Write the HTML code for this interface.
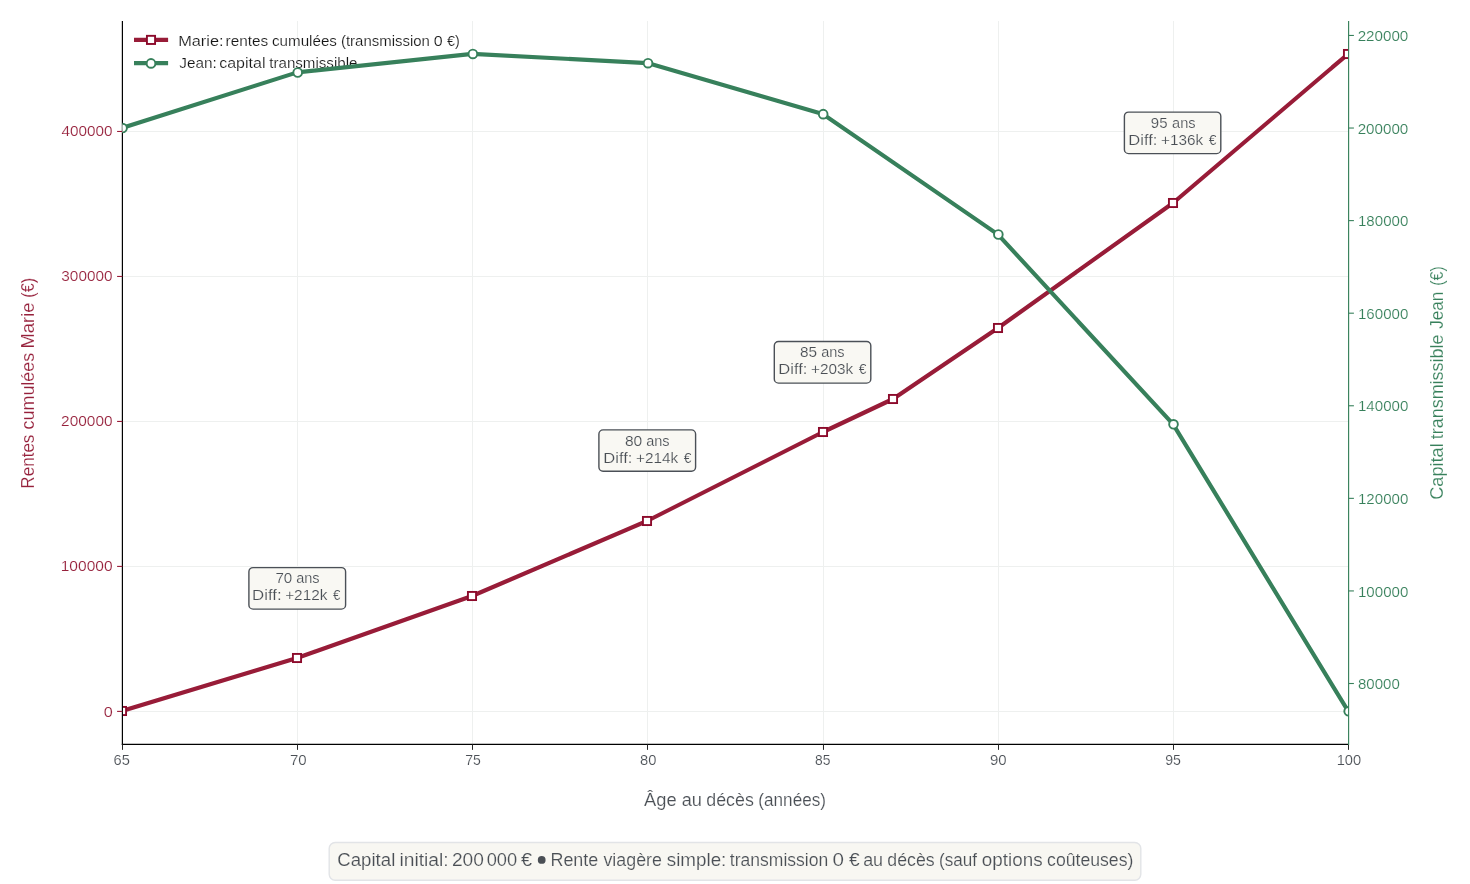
<!DOCTYPE html>
<html><head><meta charset="utf-8"><title>Chart</title>
<style>html,body{margin:0;padding:0;background:#fff;}svg{display:block;}text{font-family:"Liberation Sans",sans-serif;}</style></head><body>
<svg width="1470" height="884" viewBox="0 0 1470 884">
<rect x="0" y="0" width="1470" height="884" fill="#ffffff"/>
<g opacity="0.999">
<defs><clipPath id="ax"><rect x="122.4" y="21.0" width="1226.1999999999998" height="723.35"/></clipPath></defs>
<g stroke="#eef0ef" stroke-width="1" fill="none">
<line x1="122.5" y1="21.0" x2="122.5" y2="744.35"/>
<line x1="297.5" y1="21.0" x2="297.5" y2="744.35"/>
<line x1="472.5" y1="21.0" x2="472.5" y2="744.35"/>
<line x1="647.5" y1="21.0" x2="647.5" y2="744.35"/>
<line x1="823.5" y1="21.0" x2="823.5" y2="744.35"/>
<line x1="998.5" y1="21.0" x2="998.5" y2="744.35"/>
<line x1="1173.5" y1="21.0" x2="1173.5" y2="744.35"/>
<line x1="1348.5" y1="21.0" x2="1348.5" y2="744.35"/>
<line x1="122.4" y1="711.50" x2="1348.6" y2="711.50"/>
<line x1="122.4" y1="566.50" x2="1348.6" y2="566.50"/>
<line x1="122.4" y1="421.50" x2="1348.6" y2="421.50"/>
<line x1="122.4" y1="276.50" x2="1348.6" y2="276.50"/>
<line x1="122.4" y1="131.50" x2="1348.6" y2="131.50"/>
</g>
<g clip-path="url(#ax)">
<polyline points="122.00,711.00 297.00,658.00 472.00,596.00 647.00,521.00 823.00,432.00 893.00,399.00 998.00,328.00 1173.00,203.00 1348.00,54.00" fill="none" stroke="#981c38" stroke-width="4.17" stroke-linejoin="round"/>
<rect x="117.925" y="706.925" width="8.15" height="8.15" fill="#fff" stroke="#8c0a2b" stroke-width="1.9"/>
<rect x="292.925" y="653.925" width="8.15" height="8.15" fill="#fff" stroke="#8c0a2b" stroke-width="1.9"/>
<rect x="467.925" y="591.925" width="8.15" height="8.15" fill="#fff" stroke="#8c0a2b" stroke-width="1.9"/>
<rect x="642.925" y="516.925" width="8.15" height="8.15" fill="#fff" stroke="#8c0a2b" stroke-width="1.9"/>
<rect x="818.925" y="427.925" width="8.15" height="8.15" fill="#fff" stroke="#8c0a2b" stroke-width="1.9"/>
<rect x="888.925" y="394.925" width="8.15" height="8.15" fill="#fff" stroke="#8c0a2b" stroke-width="1.9"/>
<rect x="993.925" y="323.925" width="8.15" height="8.15" fill="#fff" stroke="#8c0a2b" stroke-width="1.9"/>
<rect x="1168.925" y="198.925" width="8.15" height="8.15" fill="#fff" stroke="#8c0a2b" stroke-width="1.9"/>
<rect x="1343.925" y="49.925" width="8.15" height="8.15" fill="#fff" stroke="#8c0a2b" stroke-width="1.9"/>
</g>
<line x1="122.4" y1="21.0" x2="122.4" y2="744.95" stroke="#000" stroke-width="1.2"/>
<line x1="121.80000000000001" y1="744.35" x2="1348.6" y2="744.35" stroke="#000" stroke-width="1.2"/>
<line x1="122.5" y1="744.35" x2="122.5" y2="749.85" stroke="#262626" stroke-width="1.05"/>
<text x="113.57" y="765.00" font-size="14.4" fill="#4a4f55" stroke="#ffffff" stroke-width="0.16" textLength="16.32" lengthAdjust="spacingAndGlyphs">65</text>
<line x1="297.5" y1="744.35" x2="297.5" y2="749.85" stroke="#262626" stroke-width="1.05"/>
<text x="289.95" y="765.00" font-size="14.4" fill="#4a4f55" stroke="#ffffff" stroke-width="0.16" textLength="16.72" lengthAdjust="spacingAndGlyphs">70</text>
<line x1="472.5" y1="744.35" x2="472.5" y2="749.85" stroke="#262626" stroke-width="1.05"/>
<text x="465.30" y="765.00" font-size="14.4" fill="#4a4f55" stroke="#ffffff" stroke-width="0.16" textLength="15.57" lengthAdjust="spacingAndGlyphs">75</text>
<line x1="647.5" y1="744.35" x2="647.5" y2="749.85" stroke="#262626" stroke-width="1.05"/>
<text x="639.98" y="765.00" font-size="14.4" fill="#4a4f55" stroke="#ffffff" stroke-width="0.16" textLength="16.37" lengthAdjust="spacingAndGlyphs">80</text>
<line x1="823.5" y1="744.35" x2="823.5" y2="749.85" stroke="#262626" stroke-width="1.05"/>
<text x="814.92" y="765.00" font-size="14.4" fill="#4a4f55" stroke="#ffffff" stroke-width="0.16" textLength="15.45" lengthAdjust="spacingAndGlyphs">85</text>
<line x1="998.5" y1="744.35" x2="998.5" y2="749.85" stroke="#262626" stroke-width="1.05"/>
<text x="990.02" y="765.00" font-size="14.4" fill="#4a4f55" stroke="#ffffff" stroke-width="0.16" textLength="16.65" lengthAdjust="spacingAndGlyphs">90</text>
<line x1="1173.5" y1="744.35" x2="1173.5" y2="749.85" stroke="#262626" stroke-width="1.05"/>
<text x="1165.16" y="765.00" font-size="14.4" fill="#4a4f55" stroke="#ffffff" stroke-width="0.16" textLength="15.72" lengthAdjust="spacingAndGlyphs">95</text>
<line x1="1348.5" y1="744.35" x2="1348.5" y2="749.85" stroke="#262626" stroke-width="1.05"/>
<text x="1336.70" y="765.00" font-size="14.4" fill="#4a4f55" stroke="#ffffff" stroke-width="0.16" textLength="24.45" lengthAdjust="spacingAndGlyphs">100</text>
<line x1="117.10000000000001" y1="711.40" x2="122.4" y2="711.40" stroke="#981c38" stroke-width="1.1"/>
<text x="103.69" y="716.90" font-size="14.4" fill="#96203b" stroke="#ffffff" stroke-width="0.16" textLength="9.03" lengthAdjust="spacingAndGlyphs">0</text>
<line x1="117.10000000000001" y1="566.42" x2="122.4" y2="566.42" stroke="#981c38" stroke-width="1.1"/>
<text x="60.74" y="571.42" font-size="14.4" fill="#96203b" stroke="#ffffff" stroke-width="0.16" textLength="51.85" lengthAdjust="spacingAndGlyphs">100000</text>
<line x1="117.10000000000001" y1="421.44" x2="122.4" y2="421.44" stroke="#981c38" stroke-width="1.1"/>
<text x="61.14" y="426.44" font-size="14.4" fill="#96203b" stroke="#ffffff" stroke-width="0.16" textLength="51.44" lengthAdjust="spacingAndGlyphs">200000</text>
<line x1="117.10000000000001" y1="276.46" x2="122.4" y2="276.46" stroke="#981c38" stroke-width="1.1"/>
<text x="61.34" y="281.46" font-size="14.4" fill="#96203b" stroke="#ffffff" stroke-width="0.16" textLength="51.24" lengthAdjust="spacingAndGlyphs">300000</text>
<line x1="117.10000000000001" y1="131.48" x2="122.4" y2="131.48" stroke="#981c38" stroke-width="1.1"/>
<text x="61.57" y="136.48" font-size="14.4" fill="#96203b" stroke="#ffffff" stroke-width="0.16" textLength="51.01" lengthAdjust="spacingAndGlyphs">400000</text>
<text x="644.13" y="805.80" font-size="17.5" fill="#4a4f55" stroke="#ffffff" stroke-width="0.16" textLength="32.56" lengthAdjust="spacingAndGlyphs">Âge</text>
<text x="681.75" y="805.80" font-size="17.5" fill="#4a4f55" stroke="#ffffff" stroke-width="0.16" textLength="20.24" lengthAdjust="spacingAndGlyphs">au</text>
<text x="706.27" y="805.80" font-size="17.5" fill="#4a4f55" stroke="#ffffff" stroke-width="0.16" textLength="47.55" lengthAdjust="spacingAndGlyphs">décès</text>
<text x="758.36" y="805.80" font-size="17.5" fill="#4a4f55" stroke="#ffffff" stroke-width="0.16" textLength="67.58" lengthAdjust="spacingAndGlyphs">(années)</text>
<text transform="translate(34.2,0) rotate(-90)" x="-488.68" y="0" font-size="17.5" fill="#96203b" stroke="#ffffff" stroke-width="0.16" textLength="54.08" lengthAdjust="spacingAndGlyphs">Rentes</text>
<text transform="translate(34.2,0) rotate(-90)" x="-429.44" y="0" font-size="17.5" fill="#96203b" stroke="#ffffff" stroke-width="0.16" textLength="76.67" lengthAdjust="spacingAndGlyphs">cumulées</text>
<text transform="translate(34.2,0) rotate(-90)" x="-348.49" y="0" font-size="17.5" fill="#96203b" stroke="#ffffff" stroke-width="0.16" textLength="45.99" lengthAdjust="spacingAndGlyphs">Marie</text>
<text transform="translate(34.2,0) rotate(-90)" x="-297.69" y="0" font-size="17.5" fill="#96203b" stroke="#ffffff" stroke-width="0.16" textLength="19.99" lengthAdjust="spacingAndGlyphs">(€)</text>
<rect x="248.9" y="567.6" width="96.70" height="41.50" rx="4.2" ry="4.2" fill="#f9f8f3" stroke="#4b5057" stroke-width="1.4"/>
<text x="275.44" y="582.90" font-size="14.0" fill="#4a4f55" stroke="#f9f8f3" stroke-width="0.16" textLength="16.83" lengthAdjust="spacingAndGlyphs">70</text>
<text x="296.20" y="582.90" font-size="14.0" fill="#4a4f55" stroke="#f9f8f3" stroke-width="0.16" textLength="23.40" lengthAdjust="spacingAndGlyphs">ans</text>
<text x="252.06" y="599.75" font-size="14.0" fill="#4a4f55" stroke="#f9f8f3" stroke-width="0.16" textLength="29.54" lengthAdjust="spacingAndGlyphs">Diff:</text>
<text x="285.17" y="599.75" font-size="14.0" fill="#4a4f55" stroke="#f9f8f3" stroke-width="0.16" textLength="42.19" lengthAdjust="spacingAndGlyphs">+212k</text>
<text x="332.92" y="599.75" font-size="14.0" fill="#4a4f55" stroke="#f9f8f3" stroke-width="0.16" textLength="7.35" lengthAdjust="spacingAndGlyphs">€</text>
<rect x="598.9" y="429.9" width="96.70" height="41.40" rx="4.2" ry="4.2" fill="#f9f8f3" stroke="#4b5057" stroke-width="1.4"/>
<text x="624.94" y="445.90" font-size="14.0" fill="#4a4f55" stroke="#f9f8f3" stroke-width="0.16" textLength="17.35" lengthAdjust="spacingAndGlyphs">80</text>
<text x="646.20" y="445.90" font-size="14.0" fill="#4a4f55" stroke="#f9f8f3" stroke-width="0.16" textLength="23.40" lengthAdjust="spacingAndGlyphs">ans</text>
<text x="603.28" y="462.60" font-size="14.0" fill="#4a4f55" stroke="#f9f8f3" stroke-width="0.16" textLength="29.10" lengthAdjust="spacingAndGlyphs">Diff:</text>
<text x="636.07" y="462.60" font-size="14.0" fill="#4a4f55" stroke="#f9f8f3" stroke-width="0.16" textLength="42.19" lengthAdjust="spacingAndGlyphs">+214k</text>
<text x="683.71" y="462.60" font-size="14.0" fill="#4a4f55" stroke="#f9f8f3" stroke-width="0.16" textLength="7.66" lengthAdjust="spacingAndGlyphs">€</text>
<rect x="774.3" y="341.5" width="96.50" height="41.60" rx="4.2" ry="4.2" fill="#f9f8f3" stroke="#4b5057" stroke-width="1.4"/>
<text x="799.95" y="356.90" font-size="14.0" fill="#4a4f55" stroke="#f9f8f3" stroke-width="0.16" textLength="17.07" lengthAdjust="spacingAndGlyphs">85</text>
<text x="821.20" y="356.90" font-size="14.0" fill="#4a4f55" stroke="#f9f8f3" stroke-width="0.16" textLength="23.40" lengthAdjust="spacingAndGlyphs">ans</text>
<text x="778.28" y="373.60" font-size="14.0" fill="#4a4f55" stroke="#f9f8f3" stroke-width="0.16" textLength="29.10" lengthAdjust="spacingAndGlyphs">Diff:</text>
<text x="811.07" y="373.60" font-size="14.0" fill="#4a4f55" stroke="#f9f8f3" stroke-width="0.16" textLength="42.19" lengthAdjust="spacingAndGlyphs">+203k</text>
<text x="858.71" y="373.60" font-size="14.0" fill="#4a4f55" stroke="#f9f8f3" stroke-width="0.16" textLength="7.66" lengthAdjust="spacingAndGlyphs">€</text>
<rect x="1124.4" y="112.1" width="96.40" height="41.50" rx="4.2" ry="4.2" fill="#f9f8f3" stroke="#4b5057" stroke-width="1.4"/>
<text x="1150.82" y="127.90" font-size="14.0" fill="#4a4f55" stroke="#f9f8f3" stroke-width="0.16" textLength="16.69" lengthAdjust="spacingAndGlyphs">95</text>
<text x="1172.10" y="127.90" font-size="14.0" fill="#4a4f55" stroke="#f9f8f3" stroke-width="0.16" textLength="23.51" lengthAdjust="spacingAndGlyphs">ans</text>
<text x="1128.28" y="144.60" font-size="14.0" fill="#4a4f55" stroke="#f9f8f3" stroke-width="0.16" textLength="29.10" lengthAdjust="spacingAndGlyphs">Diff:</text>
<text x="1161.07" y="144.60" font-size="14.0" fill="#4a4f55" stroke="#f9f8f3" stroke-width="0.16" textLength="42.19" lengthAdjust="spacingAndGlyphs">+136k</text>
<text x="1208.71" y="144.60" font-size="14.0" fill="#4a4f55" stroke="#f9f8f3" stroke-width="0.16" textLength="7.66" lengthAdjust="spacingAndGlyphs">€</text>
<line x1="134" y1="39.9" x2="168.1" y2="39.9" stroke="#981c38" stroke-width="4.17"/>
<rect x="146.925" y="35.824999999999996" width="8.15" height="8.15" fill="#fff" stroke="#8c0a2b" stroke-width="1.9"/>
<line x1="134" y1="63.1" x2="168.1" y2="63.1" stroke="#37805b" stroke-width="4.17"/>
<circle cx="151" cy="63.4" r="4.35" fill="#fff" stroke="#37805b" stroke-width="1.9"/>
<text x="178.18" y="45.80" font-size="13.9" fill="#161616" stroke="#ffffff" stroke-width="0.16" textLength="45.39" lengthAdjust="spacingAndGlyphs">Marie:</text>
<text x="225.60" y="45.80" font-size="13.9" fill="#161616" stroke="#ffffff" stroke-width="0.16" textLength="42.63" lengthAdjust="spacingAndGlyphs">rentes</text>
<text x="271.98" y="45.80" font-size="13.9" fill="#161616" stroke="#ffffff" stroke-width="0.16" textLength="64.95" lengthAdjust="spacingAndGlyphs">cumulées</text>
<text x="340.99" y="45.80" font-size="13.9" fill="#161616" stroke="#ffffff" stroke-width="0.16" textLength="88.86" lengthAdjust="spacingAndGlyphs">(transmission</text>
<text x="433.89" y="45.80" font-size="13.9" fill="#161616" stroke="#ffffff" stroke-width="0.16" textLength="8.91" lengthAdjust="spacingAndGlyphs">0</text>
<text x="447.01" y="45.80" font-size="13.9" fill="#161616" stroke="#ffffff" stroke-width="0.16" textLength="12.76" lengthAdjust="spacingAndGlyphs">€)</text>
<text x="179.28" y="67.70" font-size="13.9" fill="#161616" stroke="#ffffff" stroke-width="0.16" textLength="37.50" lengthAdjust="spacingAndGlyphs">Jean:</text>
<text x="219.24" y="67.70" font-size="13.9" fill="#161616" stroke="#ffffff" stroke-width="0.16" textLength="46.21" lengthAdjust="spacingAndGlyphs">capital</text>
<text x="269.29" y="67.70" font-size="13.9" fill="#161616" stroke="#ffffff" stroke-width="0.16" textLength="88.16" lengthAdjust="spacingAndGlyphs">transmissible</text>
<g clip-path="url(#ax)">
<polyline points="122.05,127.93 297.21,72.38 472.37,53.87 647.53,63.12 822.69,114.04 997.85,234.40 1173.01,424.19 1348.17,711.18" fill="none" stroke="#37805b" stroke-width="4.17" stroke-linejoin="round"/>
<circle cx="122.55" cy="128.03" r="4.35" fill="#fff" stroke="#37805b" stroke-width="1.9"/>
<circle cx="297.71" cy="72.48" r="4.35" fill="#fff" stroke="#37805b" stroke-width="1.9"/>
<circle cx="472.87" cy="53.97" r="4.35" fill="#fff" stroke="#37805b" stroke-width="1.9"/>
<circle cx="648.03" cy="63.22" r="4.35" fill="#fff" stroke="#37805b" stroke-width="1.9"/>
<circle cx="823.19" cy="114.14" r="4.35" fill="#fff" stroke="#37805b" stroke-width="1.9"/>
<circle cx="998.35" cy="234.50" r="4.35" fill="#fff" stroke="#37805b" stroke-width="1.9"/>
<circle cx="1173.51" cy="424.29" r="4.35" fill="#fff" stroke="#37805b" stroke-width="1.9"/>
<circle cx="1348.67" cy="711.28" r="4.35" fill="#fff" stroke="#37805b" stroke-width="1.9"/>
</g>
<line x1="1348.6" y1="21.0" x2="1348.6" y2="744.95" stroke="#37805b" stroke-width="1.15"/>
<line x1="1348.6" y1="683.51" x2="1353.8999999999999" y2="683.51" stroke="#37805b" stroke-width="1.1"/>
<text x="1357.97" y="689.11" font-size="14.4" fill="#37805b" stroke="#ffffff" stroke-width="0.16" textLength="41.80" lengthAdjust="spacingAndGlyphs">80000</text>
<line x1="1348.6" y1="590.93" x2="1353.8999999999999" y2="590.93" stroke="#37805b" stroke-width="1.1"/>
<text x="1357.97" y="596.53" font-size="14.4" fill="#37805b" stroke="#ffffff" stroke-width="0.16" textLength="50.35" lengthAdjust="spacingAndGlyphs">100000</text>
<line x1="1348.6" y1="498.35" x2="1353.8999999999999" y2="498.35" stroke="#37805b" stroke-width="1.1"/>
<text x="1357.97" y="503.95" font-size="14.4" fill="#37805b" stroke="#ffffff" stroke-width="0.16" textLength="50.35" lengthAdjust="spacingAndGlyphs">120000</text>
<line x1="1348.6" y1="405.77" x2="1353.8999999999999" y2="405.77" stroke="#37805b" stroke-width="1.1"/>
<text x="1357.97" y="411.37" font-size="14.4" fill="#37805b" stroke="#ffffff" stroke-width="0.16" textLength="50.35" lengthAdjust="spacingAndGlyphs">140000</text>
<line x1="1348.6" y1="313.19" x2="1353.8999999999999" y2="313.19" stroke="#37805b" stroke-width="1.1"/>
<text x="1357.97" y="318.79" font-size="14.4" fill="#37805b" stroke="#ffffff" stroke-width="0.16" textLength="50.35" lengthAdjust="spacingAndGlyphs">160000</text>
<line x1="1348.6" y1="220.61" x2="1353.8999999999999" y2="220.61" stroke="#37805b" stroke-width="1.1"/>
<text x="1357.97" y="226.21" font-size="14.4" fill="#37805b" stroke="#ffffff" stroke-width="0.16" textLength="50.35" lengthAdjust="spacingAndGlyphs">180000</text>
<line x1="1348.6" y1="128.03" x2="1353.8999999999999" y2="128.03" stroke="#37805b" stroke-width="1.1"/>
<text x="1357.66" y="133.63" font-size="14.4" fill="#37805b" stroke="#ffffff" stroke-width="0.16" textLength="50.67" lengthAdjust="spacingAndGlyphs">200000</text>
<line x1="1348.6" y1="35.45" x2="1353.8999999999999" y2="35.45" stroke="#37805b" stroke-width="1.1"/>
<text x="1357.66" y="41.05" font-size="14.4" fill="#37805b" stroke="#ffffff" stroke-width="0.16" textLength="50.67" lengthAdjust="spacingAndGlyphs">220000</text>
<text transform="translate(1442.9,0) rotate(-90)" x="-499.80" y="0" font-size="17.5" fill="#37805b" stroke="#ffffff" stroke-width="0.16" textLength="56.50" lengthAdjust="spacingAndGlyphs">Capital</text>
<text transform="translate(1442.9,0) rotate(-90)" x="-439.35" y="0" font-size="17.5" fill="#37805b" stroke="#ffffff" stroke-width="0.16" textLength="104.93" lengthAdjust="spacingAndGlyphs">transmissible</text>
<text transform="translate(1442.9,0) rotate(-90)" x="-328.75" y="0" font-size="17.5" fill="#37805b" stroke="#ffffff" stroke-width="0.16" textLength="37.14" lengthAdjust="spacingAndGlyphs">Jean</text>
<text transform="translate(1442.9,0) rotate(-90)" x="-285.77" y="0" font-size="17.5" fill="#37805b" stroke="#ffffff" stroke-width="0.16" textLength="19.54" lengthAdjust="spacingAndGlyphs">(€)</text>
<rect x="329.2" y="842.5" width="811.6" height="37.7" rx="6" ry="6" fill="#f8f7f2" stroke="#e2e4e7" stroke-width="1.4"/>
<text x="337.27" y="866.20" font-size="17.5" fill="#4a4f55" stroke="#f8f7f2" stroke-width="0.16" textLength="58.05" lengthAdjust="spacingAndGlyphs">Capital</text>
<text x="399.43" y="866.20" font-size="17.5" fill="#4a4f55" stroke="#f8f7f2" stroke-width="0.16" textLength="49.31" lengthAdjust="spacingAndGlyphs">initial:</text>
<text x="451.96" y="866.20" font-size="17.5" fill="#4a4f55" stroke="#f8f7f2" stroke-width="0.16" textLength="31.97" lengthAdjust="spacingAndGlyphs">200</text>
<text x="486.71" y="866.20" font-size="17.5" fill="#4a4f55" stroke="#f8f7f2" stroke-width="0.16" textLength="30.49" lengthAdjust="spacingAndGlyphs">000</text>
<text x="520.96" y="866.20" font-size="17.5" fill="#4a4f55" stroke="#f8f7f2" stroke-width="0.16" textLength="11.10" lengthAdjust="spacingAndGlyphs">€</text>
<text x="550.45" y="866.20" font-size="17.5" fill="#4a4f55" stroke="#f8f7f2" stroke-width="0.16" textLength="47.83" lengthAdjust="spacingAndGlyphs">Rente</text>
<text x="603.46" y="866.20" font-size="17.5" fill="#4a4f55" stroke="#f8f7f2" stroke-width="0.16" textLength="58.51" lengthAdjust="spacingAndGlyphs">viagère</text>
<text x="666.80" y="866.20" font-size="17.5" fill="#4a4f55" stroke="#f8f7f2" stroke-width="0.16" textLength="59.50" lengthAdjust="spacingAndGlyphs">simple:</text>
<text x="729.85" y="866.20" font-size="17.5" fill="#4a4f55" stroke="#f8f7f2" stroke-width="0.16" textLength="98.36" lengthAdjust="spacingAndGlyphs">transmission</text>
<text x="832.61" y="866.20" font-size="17.5" fill="#4a4f55" stroke="#f8f7f2" stroke-width="0.16" textLength="11.47" lengthAdjust="spacingAndGlyphs">0</text>
<text x="849.07" y="866.20" font-size="17.5" fill="#4a4f55" stroke="#f8f7f2" stroke-width="0.16" textLength="10.68" lengthAdjust="spacingAndGlyphs">€</text>
<text x="863.16" y="866.20" font-size="17.5" fill="#4a4f55" stroke="#f8f7f2" stroke-width="0.16" textLength="19.91" lengthAdjust="spacingAndGlyphs">au</text>
<text x="887.37" y="866.20" font-size="17.5" fill="#4a4f55" stroke="#f8f7f2" stroke-width="0.16" textLength="47.35" lengthAdjust="spacingAndGlyphs">décès</text>
<text x="939.06" y="866.20" font-size="17.5" fill="#4a4f55" stroke="#f8f7f2" stroke-width="0.16" textLength="37.99" lengthAdjust="spacingAndGlyphs">(sauf</text>
<text x="981.83" y="866.20" font-size="17.5" fill="#4a4f55" stroke="#f8f7f2" stroke-width="0.16" textLength="60.73" lengthAdjust="spacingAndGlyphs">options</text>
<text x="1047.07" y="866.20" font-size="17.5" fill="#4a4f55" stroke="#f8f7f2" stroke-width="0.16" textLength="86.30" lengthAdjust="spacingAndGlyphs">coûteuses)</text>
<circle cx="541.7" cy="859.9" r="3.9" fill="#4a4f55"/>
</g>
</svg></body></html>
